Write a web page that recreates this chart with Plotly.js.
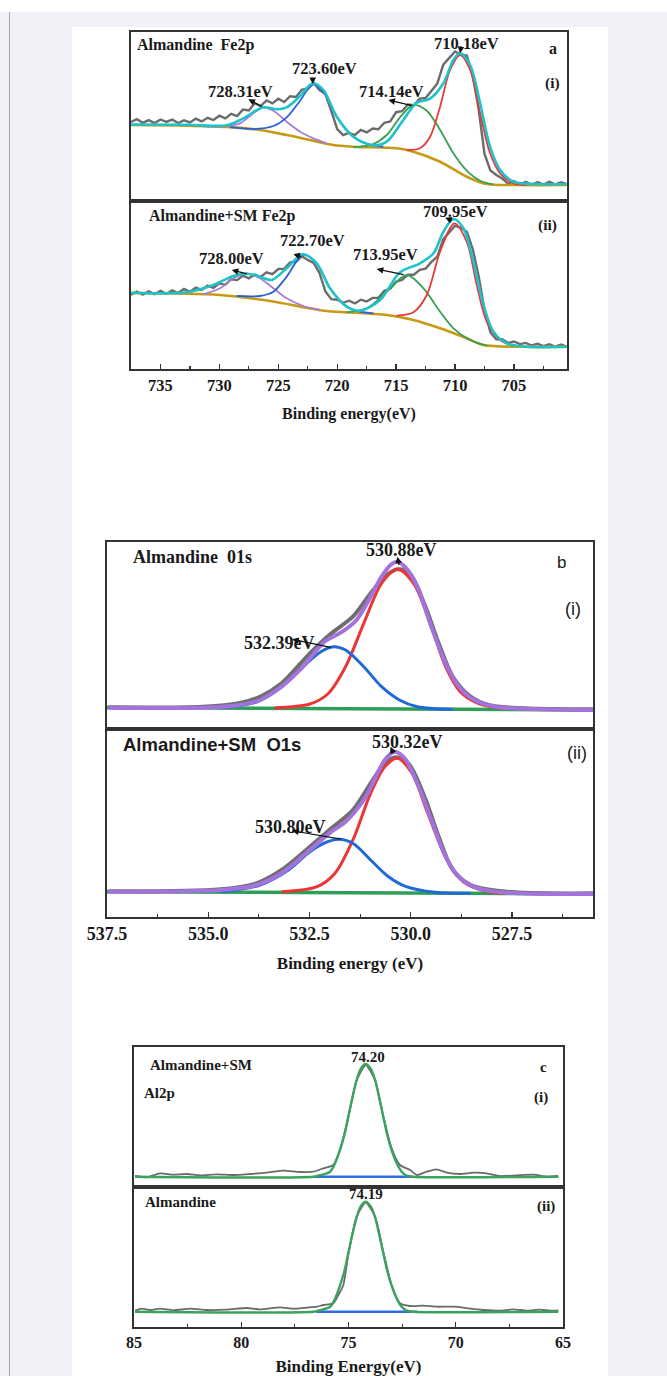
<!DOCTYPE html>
<html>
<head>
<meta charset="utf-8">
<script src="https://cdn.plot.ly/plotly-3.0.1.min.js"></script>
<style>
  html, body { margin:0; padding:0; width:667px; height:1376px; overflow:hidden; background:#ffffff; }
  #pagebg { position:absolute; left:0; top:12px; width:667px; height:1364px; background:#f1f2f8; }
  #rule { position:absolute; left:9px; top:12px; width:1px; height:1364px; background:#a9a9ad; }
  #panel { position:absolute; left:72px; top:27px; width:536px; height:1349px; background:#ffffff; }
  #chart { position:absolute; left:0; top:0; width:667px; height:1376px; }
</style>
</head>
<body>
<div id="pagebg"></div>
<div id="rule"></div>
<div id="panel"></div>
<div id="chart"></div>
<script>
// ---------------- DATA (binding energy in eV, intensity in arbitrary units) ----------------
// Panel a : Fe2p
const feGridEV = [737.5,737.0,736.5,736.0,735.5,735.0,734.5,734.0,733.5,733.0,732.5,732.0,731.5,731.0,730.5,730.0,729.5,729.0,728.5,728.0,727.5,727.0,726.5,726.0,725.5,725.0,724.5,724.0,723.5,723.0,722.5,722.0,721.5,721.0,720.5,720.0,719.5,719.0,718.5,718.0,717.5,717.0,716.5,716.0,715.5,715.0,714.5,714.0,713.5,713.0,712.5,712.0,711.5,711.0,710.5,710.0,709.5,709.0,708.5,708.0,707.5,707.0,706.5,706.0,705.5,705.0,704.5,704.0,703.5,703.0,702.5,702.0,701.5,701.0,700.5];
const feAlmRaw = [79.0,81.8,78.2,80.9,77.9,81.5,79.1,81.4,78.0,80.6,78.6,82.3,79.6,83.2,81.0,85.3,82.6,87.2,85.0,91.4,90.6,97.8,95.0,100.6,97.6,102.3,99.0,104.8,104.0,111.4,112.0,118.2,111.0,107.0,90.0,71.8,66.0,68.2,66.0,71.0,68.6,72.5,71.8,78.2,79.6,88.8,89.8,96.5,95.8,102.4,103.0,109.8,117.6,136.4,143.0,149.6,146.4,145.4,125.2,92.0,47.0,30.5,26.0,22.4,17.4,19.8,16.4,19.2,16.2,19.0,16.4,19.2,16.6,18.8,16.8];
const feSmRaw  = [74.2,77.3,74.4,77.6,74.8,78.2,75.1,78.7,76.0,80.0,77.2,81.3,79.1,83.4,81.2,85.6,84.2,89.8,88.9,93.3,90.7,94.5,92.1,96.6,94.8,100.0,100.1,106.7,107.2,112.8,109.1,106.2,95.9,77.5,69.8,69.3,66.2,68.3,65.6,69.3,67.5,71.1,71.2,78.3,80.2,87.3,89.1,94.4,94.3,99.2,100.4,107.1,112.4,129.8,136.6,143.4,141.2,137.2,120.0,93.0,59.0,36.6,29.6,29.8,26.1,27.5,24.9,26.1,23.5,25.3,22.8,24.8,22.4,24.4,22.3];

// (i) Almandine Fe2p fit
const feAlmBgX = [737.5,732.78,729.10,726.55,724.29,722.30,720.32,718.63,714.95,713.53,711.27,709.01,707.31,704.48,700.52];
const feAlmBgY = [76.0,75.4,73.9,71.0,66.0,61.0,56.0,54.3,52.7,49.3,39.3,24.3,17.0,16.0,16.0];
const feAlmP1X = [731.36,729.94,728.25,727.12,726.27,725.42,724.29,723.15,722.02,720.89];
const feAlmP1Y = [74.6,74.6,77.7,87.7,93.3,90.3,79.3,69.3,62.7,57.7];
const feAlmP2X = [729.10,727.12,725.42,724.29,723.15,722.08,721.17,720.04,718.63,717.49,716.08];
const feAlmP2Y = [73.8,72.0,75.0,83.7,100.3,116.7,109.3,84.3,64.3,57.0,54.3];
const feAlmP3X = [718.63,716.93,715.80,714.67,713.53,712.40,711.27,710.14,709.01,707.87,706.74];
const feAlmP3Y = [53.7,57.0,66.0,83.7,96.0,90.3,71.0,47.7,30.3,20.3,16.7];
const feAlmP4X = [714.10,712.97,712.12,711.27,710.42,709.57,708.72,707.87,707.03,706.18,705.05,703.91];
const feAlmP4Y = [51.0,52.7,64.3,94.3,131.0,146.0,131.0,87.7,47.7,27.7,17.7,16.0];
const feAlmEnvX = [737.5,732.78,729.38,727.96,726.27,725.13,724.29,723.15,722.08,721.17,720.04,718.63,716.93,715.80,714.39,713.25,712.12,710.99,710.14,709.57,708.72,707.87,707.03,706.18,705.05,703.06,700.52];
const feAlmEnvY = [76.5,76.2,75.7,82.7,93.7,91.7,93.7,105.0,117.7,111.0,84.3,64.3,55.7,59.3,81.0,98.3,102.3,117.7,141.0,147.7,136.0,97.7,54.3,31.0,19.3,17.0,17.0];

// (ii) Almandine+SM Fe2p fit
const feSmBgX = [737.5,729.94,725.70,722.59,720.89,715.80,713.53,711.27,709.01,707.59,704.48,700.52];
const feSmBgY = [76.0,74.0,68.0,61.3,58.0,54.0,49.0,40.7,30.7,24.0,22.3,22.3];
const feSmP1X = [731.36,729.94,728.81,727.68,726.55,725.42,724.29,722.87,721.46];
const feSmP1Y = [74.7,80.7,90.7,95.7,90.7,80.7,70.7,63.0,59.0];
const feSmP2X = [728.53,726.55,725.42,724.29,722.93,721.74,720.61,719.19,718.06,716.93];
const feSmP2Y = [73.0,73.0,77.3,92.3,114.0,105.7,80.7,62.3,57.3,55.7];
const feSmP3X = [719.19,717.49,715.80,714.10,712.68,711.27,710.14,708.72,707.31];
const feSmP3Y = [56.7,60.7,77.3,94.0,80.7,57.3,40.7,29.0,23.3];
const feSmP4X = [714.95,713.53,712.40,711.27,710.05,709.01,708.16,707.31,706.18,705.05];
const feSmP4Y = [53.3,56.7,74.0,117.3,145.7,127.3,84.0,47.3,29.0,23.3];
const feSmEnvX = [737.5,732.78,730.51,728.81,727.68,726.55,725.56,724.29,722.93,721.74,720.61,719.19,718.06,716.36,714.67,712.97,711.83,710.99,710.14,709.29,708.44,707.59,706.74,705.61,703.91,700.52];
const feSmEnvY = [76.3,76.7,84.0,93.0,95.3,92.3,89.0,100.7,114.7,105.7,80.7,62.3,58.3,69.0,96.7,105.7,115.7,137.3,150.0,140.7,107.3,64.0,37.3,25.7,22.3,22.3];

// Panel b : O1s
const oAlmRawX = [537.47,535.13,534.25,533.72,533.19,532.49,531.96,531.43,530.99,530.64,530.33,530.02,529.67,529.31,528.96,528.52,528.08,527.20,525.49];
const oAlmRawY = [21.7,22.3,25.7,32.3,45.7,75.7,95.7,112.3,135.7,152.3,159.7,155.0,125.7,85.7,52.3,32.3,24.0,20.7,19.7];
const oAlmEnvX = [537.47,535.13,534.25,533.72,533.19,532.66,532.13,531.69,531.34,530.99,530.72,530.50,530.33,530.11,529.84,529.49,529.14,528.78,528.43,527.90,527.20,525.49];
const oAlmEnvY = [21.3,21.3,23.7,29.0,42.3,62.3,87.3,97.3,109.0,132.3,152.3,164.0,167.3,160.7,142.3,102.3,65.7,40.7,29.0,22.3,20.3,19.0];
const oAlmP1X = [533.37,532.49,532.05,531.61,531.16,530.72,530.33,529.93,529.49,529.14,528.78,528.34,527.64];
const oAlmP1Y = [21.0,25.0,35.0,62.3,105.7,145.7,159.7,145.7,102.3,62.3,37.3,25.7,20.3];
const oAlmP2X = [534.69,533.81,533.19,532.66,532.22,531.91,531.61,531.16,530.72,530.28,529.84,528.96];
const oAlmP2Y = [21.0,27.0,42.3,62.3,77.3,82.3,79.0,62.3,42.3,29.0,22.3,19.7];
const oAlmBgX = [537.5,531.5,525.5];
const oAlmBgY = [21.6,20.3,19.0];

const oSmRawX = [537.47,534.69,533.81,533.19,532.49,531.96,531.43,530.99,530.64,530.37,530.06,529.66,529.31,528.96,528.52,527.64,525.49];
const oSmRawY = [25.7,27.7,33.7,47.0,70.3,88.7,107.0,133.7,153.7,159.7,153.7,120.3,80.3,47.0,32.0,25.3,23.7];
const oSmEnvX = [537.47,534.69,533.81,533.19,532.49,531.96,531.61,531.16,530.90,530.64,530.41,530.15,529.84,529.49,529.14,528.78,528.34,527.64,525.49];
const oSmEnvY = [25.3,27.0,32.0,43.7,67.0,85.3,95.3,117.0,137.0,157.0,165.3,158.7,133.7,97.0,60.3,38.7,28.7,24.3,23.0];
const oSmP1X = [533.19,532.31,531.87,531.43,530.99,530.64,530.33,529.97,529.58,529.14,528.70,528.08,527.20];
const oSmP1Y = [25.3,30.3,43.7,77.0,123.7,150.3,158.7,143.7,103.7,60.3,35.3,25.3,23.7];
const oSmP2X = [534.69,533.72,533.02,532.49,532.05,531.78,531.43,530.99,530.55,530.11,529.40,528.52];
const oSmP2Y = [25.3,32.0,47.0,65.3,75.3,77.7,73.7,57.0,40.3,30.3,24.7,23.7];
const oSmBgX = [537.5,531.5,525.5];
const oSmBgY = [25.3,24.2,23.0];

// Panel c : Al2p
const alSmRawX = [84.95,84.41,83.79,83.17,82.54,81.92,81.15,80.37,79.59,78.82,78.04,77.26,76.64,76.17,75.71,75.40,75.01,74.62,74.20,73.76,73.38,72.99,72.60,72.13,71.82,71.36,70.89,70.42,69.80,69.18,68.56,67.94,67.16,66.38,65.76,65.22];
const alSmRawY = [11.0,9.7,13.7,12.3,13.0,11.7,12.7,12.0,13.0,14.3,16.3,15.0,15.3,18.7,22.0,37.0,69.7,106.3,122.0,107.0,71.0,38.7,22.0,17.0,12.0,15.3,17.7,14.3,13.0,14.3,13.7,11.0,11.7,12.3,10.3,11.0];
const alSmFitX = [84.95,76.64,76.41,75.86,75.63,75.40,75.19,75.01,74.81,74.62,74.42,74.20,73.98,73.76,73.58,73.38,73.19,72.99,72.75,72.52,72.29,71.98,65.22];
const alSmFitY = [10.3,10.3,11.3,15.3,23.7,37.0,52.0,70.3,90.3,107.0,118.7,123.0,118.7,107.0,90.3,70.3,52.0,37.0,23.7,15.3,11.3,10.3,10.3];
const alSmBgX = [76.6,72.0];
const alSmBgY = [10.3,10.3];

const alAlmRawX = [84.95,84.64,84.25,83.79,83.17,82.39,81.61,80.68,79.75,79.13,78.19,77.57,76.95,76.48,76.17,75.71,75.47,75.24,75.01,74.62,74.20,73.76,73.38,72.99,72.60,72.13,71.51,70.89,70.11,69.65,69.34,68.71,67.94,67.32,66.69,66.07,65.60,65.22];
const alAlmRawY = [16.3,18.3,17.0,18.3,16.7,18.3,17.0,17.3,19.0,17.7,19.7,18.3,19.3,20.3,22.0,23.7,32.0,42.0,72.0,110.3,124.3,110.3,75.3,42.0,23.7,21.0,21.3,20.3,20.3,19.3,18.3,17.0,16.3,17.7,16.3,17.3,16.3,16.7];
const alAlmFitX = [84.95,76.64,76.41,75.86,75.63,75.40,75.19,75.01,74.81,74.62,74.42,74.20,73.98,73.76,73.58,73.38,73.19,72.99,72.75,72.52,72.29,71.98,65.22];
const alAlmFitY = [15.3,15.3,16.3,20.2,28.3,41.3,56.0,73.9,93.4,109.7,121.1,125.3,121.1,109.7,93.4,73.9,56.0,41.3,28.3,20.2,16.3,15.3,15.3];
const alAlmBgX = [76.5,71.8];
const alAlmBgY = [15.3,15.3];

// ---------------- LAYOUT HELPERS ----------------
const W = 667, H = 1376;
const fx = (a, b) => [a / W, b / W];
const fy = (top, bot) => [1 - bot / H, 1 - top / H];
const SERIF = "'Liberation Serif', 'Times New Roman', serif";
const SANS = "'Liberation Sans', Arial, sans-serif";
const LINE = '#333333';

function frameY(dom, anchor, range) {
  return { domain: dom, anchor: anchor, range: range, showline: true, mirror: true, linecolor: LINE, linewidth: 1.8,
           showticklabels: false, ticks: '', showgrid: false, zeroline: false, fixedrange: true };
}
function topX(dom, anchor, range) {
  return { domain: dom, anchor: anchor, range: range, showline: true, mirror: true, linecolor: LINE, linewidth: 1.8,
           showticklabels: false, ticks: '', showgrid: false, zeroline: false, fixedrange: true };
}
function botX(dom, anchor, range, dtick, minorDtick, fmt, tickSize, titleText, titleSize, standoff) {
  return { domain: dom, anchor: anchor, range: range, showline: true, mirror: true, linecolor: LINE, linewidth: 1.8,
           ticks: 'inside', ticklen: 5, tickwidth: 1.4, tickcolor: LINE, dtick: dtick, tick0: 0, tickformat: fmt,
           minor: { ticks: 'inside', ticklen: 3, tickwidth: 1.2, tickcolor: LINE, dtick: minorDtick, tick0: 0 },
           tickfont: { family: SERIF, size: tickSize, color: '#1a1a1a', weight: 700 },
           showgrid: false, zeroline: false, fixedrange: true, automargin: false,
           title: { text: titleText, font: { family: SERIF, size: titleSize, color: '#1a1a1a', weight: 700 }, standoff: standoff } };
}

const A_X = fx(131, 567), B_X = fx(107, 593), C_X = fx(134, 563);
const layout = {
  width: W, height: H, margin: { l: 0, r: 0, t: 0, b: 0 },
  paper_bgcolor: 'rgba(0,0,0,0)', plot_bgcolor: '#ffffff', showlegend: false,
  xaxis:  topX(A_X, 'y', [737.5, 700.5]),
  yaxis:  frameY(fy(32, 201), 'x', [0, 169]),
  xaxis2: botX(A_X, 'y2', [737.5, 700.5], 5, 2.5, 'd', 16.5, 'Binding energy(eV)', 16, 14),
  yaxis2: frameY(fy(201, 369), 'x2', [0, 168]),
  xaxis3: topX(B_X, 'y3', [537.5, 525.5]),
  yaxis3: frameY(fy(542, 729), 'x3', [0, 187]),
  xaxis4: botX(B_X, 'y4', [537.5, 525.5], 2.5, 1.25, '.1f', 18, 'Binding energy (eV)', 17, 14),
  yaxis4: frameY(fy(729, 917), 'x4', [0, 188]),
  xaxis5: topX(C_X, 'y5', [85, 65]),
  yaxis5: frameY(fy(1047, 1187), 'x5', [0, 140]),
  xaxis6: botX(C_X, 'y6', [85, 65], 5, 2.5, 'd', 16, 'Binding Energy(eV)', 17, 12),
  yaxis6: frameY(fy(1187, 1327), 'x6', [0, 140]),
  annotations: []
};

function txt(ax, x, y, text, size, family, xanchor, weight) {
  layout.annotations.push({ xref: 'x' + ax, yref: 'y' + ax, x: x, y: y, text: text, showarrow: false,
    xanchor: xanchor || 'center', yanchor: 'middle',
    font: { family: family || SERIF, size: size, color: '#1a1a1a', weight: weight === undefined ? 700 : weight } });
}
function arrow(ax, hx, hy, tx, ty) {
  layout.annotations.push({ xref: 'x' + ax, yref: 'y' + ax, axref: 'x' + ax, ayref: 'y' + ax,
    x: hx, y: hy, ax: tx, ay: ty, text: '', showarrow: true, arrowhead: 2, arrowsize: 1.1, arrowwidth: 1.2,
    arrowcolor: '#111111', standoff: 0, startstandoff: 0 });
}
const ax1 = '', ax2 = '2', ax3 = '3', ax4 = '4', ax5 = '5', ax6 = '6';

// Panel a texts
txt(ax1, 737.16, 156, 'Almandine  Fe2p', 16, SERIF, 'left');
txt(ax1, 709.06, 158, '710.18eV', 16.5);
txt(ax1, 701.68, 153, 'a', 16);
txt(ax1, 721.12, 133, '723.60eV', 16.5);
txt(ax1, 728.25, 110, '728.31eV', 16.5);
txt(ax1, 715.43, 110, '714.14eV', 16.5);
txt(ax1, 701.76, 118, '(i)', 15.5);
arrow(ax1, 727.54, 101.7, 726.27, 93.7);
arrow(ax1, 715.66, 101.0, 713.53, 95.0);
arrow(ax1, 722.08, 117.0, 722.08, 124.5);
arrow(ax1, 709.57, 147.7, 709.51, 153.5);

txt(ax2, 736.14, 153, 'Almandine+SM Fe2p', 16, SERIF, 'left');
txt(ax2, 710.0, 157, '709.95eV', 16.5);
txt(ax2, 702.19, 144, '(ii)', 15.5);
txt(ax2, 722.14, 128, '722.70eV', 16.5);
txt(ax2, 729.01, 111, '728.00eV', 16.5);
txt(ax2, 715.94, 114, '713.95eV', 16.5);
arrow(ax2, 728.95, 99.0, 727.54, 94.7);
arrow(ax2, 723.72, 114.7, 722.93, 112.3);
arrow(ax2, 716.65, 100.0, 714.24, 94.0);
arrow(ax2, 710.84, 151.3, 710.14, 148.0);

// Panel b texts
txt(ax3, 536.91, 172, 'Almandine  01s', 18, SERIF, 'left');
txt(ax3, 530.24, 179, '530.88eV', 18);
txt(ax3, 526.29, 166, 'b', 17, SANS, 'center', 400);
txt(ax3, 525.99, 120, '(i)', 18, SANS, 'center', 400);
txt(ax3, 533.23, 86, '532.39eV', 18);
arrow(ax3, 530.33, 172.3, 530.28, 162.3);
arrow(ax3, 532.93, 89.7, 531.94, 81.3);

txt(ax4, 537.15, 173, 'Almandine+SM  O1s', 18.5, SANS, 'left');
txt(ax4, 530.09, 175, '530.32eV', 18);
txt(ax4, 525.90, 164, '(ii)', 18, SANS, 'center', 400);
txt(ax4, 532.96, 90, '530.80eV', 18);
arrow(ax4, 530.50, 170.3, 530.41, 162.0);
arrow(ax4, 532.93, 86.3, 531.69, 77.7);

// Panel c texts
txt(ax5, 84.35, 122, 'Almandine+SM', 15, SERIF, 'left');
txt(ax5, 84.63, 94, 'Al2p', 15, SERIF, 'left');
txt(ax5, 74.09, 130, '74.20', 15);
txt(ax5, 65.93, 120, 'c', 15);
txt(ax5, 66.03, 90, '(i)', 15);
txt(ax6, 84.58, 125, 'Almandine', 15, SERIF, 'left');
txt(ax6, 74.18, 133, '74.19', 15);
txt(ax6, 65.79, 121, '(ii)', 15);

// ---------------- TRACES ----------------
const C = { gray: '#6c6c6c', teal: '#1ec3c9', red: '#e83a3a', green: '#37a052', blue: '#2a62d6',
            purple: '#a77bd8', gold: '#c79a16', bPurple: '#a372dc', bGray: '#6f6f6f', bRed: '#ec3535',
            bBlue: '#1f6ad8', bGreen: '#2f9e58', cGreen: '#3aa35e', cBlue: '#2d6fe2', cGray: '#6a6a6a' };
function tr(x, y, ax, color, width, smooth) {
  return { x: x, y: y, xaxis: 'x' + ax, yaxis: 'y' + ax, type: 'scatter', mode: 'lines', hoverinfo: 'skip',
           line: smooth ? { color: color, width: width, shape: 'spline', smoothing: smooth } : { color: color, width: width } };
}
const data = [
  // a (i)
  tr(feGridEV, feAlmRaw, ax1, C.gray, 2.4),
  tr(feAlmBgX, feAlmBgY, ax1, C.gold, 2.6, 0.9),
  tr(feAlmP1X, feAlmP1Y, ax1, C.purple, 1.8, 0.9),
  tr(feAlmP2X, feAlmP2Y, ax1, C.blue, 1.8, 0.9),
  tr(feAlmP3X, feAlmP3Y, ax1, C.green, 1.8, 0.9),
  tr(feAlmP4X, feAlmP4Y, ax1, C.red, 1.8, 0.9),
  tr(feAlmEnvX, feAlmEnvY, ax1, C.teal, 2.6, 0.9),
  // a (ii)
  tr(feGridEV, feSmRaw, ax2, C.gray, 2.4),
  tr(feSmBgX, feSmBgY, ax2, C.gold, 2.6, 0.9),
  tr(feSmP1X, feSmP1Y, ax2, C.purple, 1.8, 0.9),
  tr(feSmP2X, feSmP2Y, ax2, C.blue, 1.8, 0.9),
  tr(feSmP3X, feSmP3Y, ax2, C.green, 1.8, 0.9),
  tr(feSmP4X, feSmP4Y, ax2, C.red, 1.8, 0.9),
  tr(feSmEnvX, feSmEnvY, ax2, C.teal, 2.6, 0.9),
  // b (i)
  tr(oAlmBgX, oAlmBgY, ax3, C.bGreen, 3.5, 0.9),
  tr(oAlmRawX, oAlmRawY, ax3, C.bGray, 4, 0.9),
  tr(oAlmP1X, oAlmP1Y, ax3, C.bRed, 3, 0.9),
  tr(oAlmP2X, oAlmP2Y, ax3, C.bBlue, 3, 0.9),
  tr(oAlmEnvX, oAlmEnvY, ax3, C.bPurple, 4, 0.9),
  // b (ii)
  tr(oSmBgX, oSmBgY, ax4, C.bGreen, 3.5, 0.9),
  tr(oSmRawX, oSmRawY, ax4, C.bGray, 4, 0.9),
  tr(oSmP1X, oSmP1Y, ax4, C.bRed, 3, 0.9),
  tr(oSmP2X, oSmP2Y, ax4, C.bBlue, 3, 0.9),
  tr(oSmEnvX, oSmEnvY, ax4, C.bPurple, 4, 0.9),
  // c (i)
  tr(alSmRawX, alSmRawY, ax5, C.cGray, 1.8, 0.6),
  tr(alSmBgX, alSmBgY, ax5, C.cBlue, 2.4),
  tr(alSmFitX, alSmFitY, ax5, C.cGreen, 2.4, 0.9),
  // c (ii)
  tr(alAlmRawX, alAlmRawY, ax6, C.cGray, 1.8, 0.6),
  tr(alAlmBgX, alAlmBgY, ax6, C.cBlue, 2.4),
  tr(alAlmFitX, alAlmFitY, ax6, C.cGreen, 2.4, 0.9)
];

Plotly.newPlot('chart', data, layout, { staticPlot: true, displayModeBar: false });
</script>
</body>
</html>
